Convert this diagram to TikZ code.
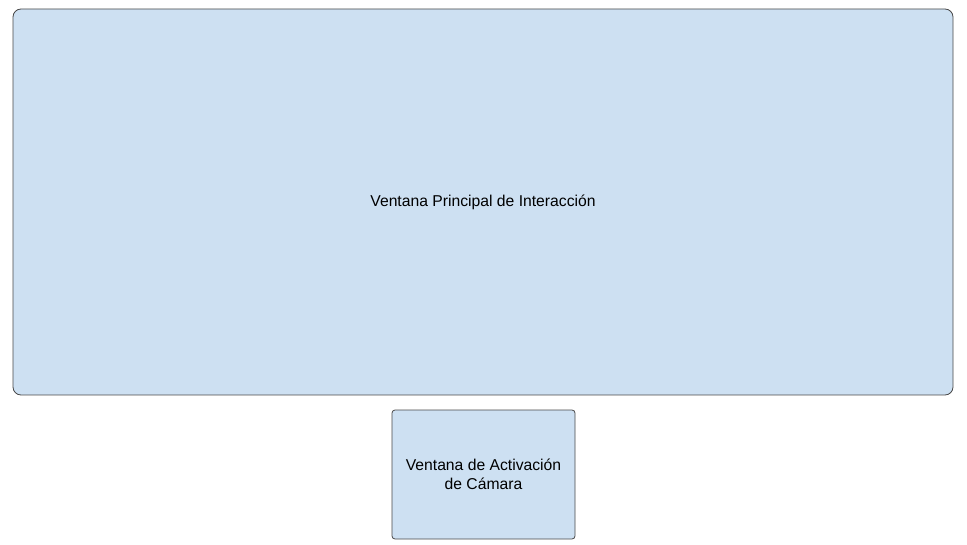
\documentclass[tikz,border=0pt]{standalone}
\usepackage{fontspec}
\setmainfont{Liberation Sans}
\usepackage{xcolor}
\definecolor{panelfill}{RGB}{205,224,242}
\definecolor{panelline}{RGB}{72,72,72}
\usetikzlibrary{positioning}

\begin{document}
\begin{tikzpicture}[x=1pt,y=-1pt,
mainwin/.style={draw=panelline,line width=0.8pt,rounded corners=8pt,fill=panelfill,align=center,minimum width=940pt,minimum height=386pt,font=\fontsize{15.7}{19}\selectfont},
camwin/.style={draw=panelline,line width=0.8pt,rounded corners=3pt,fill=panelfill,align=center,minimum width=183pt,minimum height=129pt,font=\fontsize{15.7}{19}\selectfont}]
\useasboundingbox (0,0) rectangle (967,545);
\node[mainwin] (principal) at (483,202) {Ventana Principal de Interacción};
\node[camwin]  (camara) at (483.5,474.5) {Ventana de Activación\\de Cámara};
\end{tikzpicture}
\end{document}
